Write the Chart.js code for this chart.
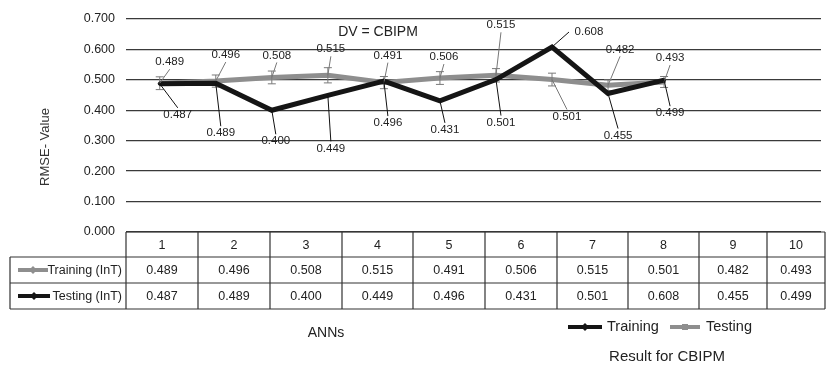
<!DOCTYPE html>
<html>
<head>
<meta charset="utf-8">
<script src="https://cdn.jsdelivr.net/npm/chart.js@4.4.0/dist/chart.umd.min.js"></script>
<style>
  html, body { margin: 0; padding: 0; background: #fff; }
  #wrap { width: 826px; height: 369px; position: relative; }
</style>
</head>
<body>
<div id="wrap"><canvas id="rmseChart"></canvas></div>
<script>
// Gegevens uit de figuur (RMSE per ANN)
const anns = ['1', '2', '3', '4', '5', '6', '7', '8', '9', '10'];
const trainingInT = [0.489, 0.496, 0.508, 0.515, 0.491, 0.506, 0.515, 0.501, 0.482, 0.493];
const testingInT = [0.487, 0.489, 0.400, 0.449, 0.496, 0.431, 0.501, 0.608, 0.455, 0.499];
const trainingErr = [0.021, 0.020, 0.021, 0.025, 0.020, 0.021, 0.022, 0.021, 0.018, 0.018];
const annPositions = [1, 2, 3, 4, 5, 6, 7, 8, 9, 10];

const FONT = 'Liberation Sans, Arial, sans-serif';
const GRAY = '#8e8e8e';
const BLACK = '#151515';

// Labelplaatsing (offset t.o.v. het punt), puur opmaak
const grayLabelOffsets = [[10,-21],[10,-26],[5,-22],[3,-26],[4,-27],[4,-21],[5,-50],[15,37],[12,-36],[6,-24]];
const blackLabelOffsets = [[18,31],[5,50],[4,31],[3,53],[4,42],[5,29],[5,43],[37,-15],[10,42],[6,33]];
const colWidths = [72, 72, 72, 71, 72, 72, 71, 71, 68, 58];

const extras = {
    id: 'extras',
    afterDatasetDraw(chart, args) {
        if (args.index !== 1) return;
        // Foutbalkjes op de grijze lijn
        const ctx = chart.ctx, x = chart.scales.x, y = chart.scales.y;
        ctx.save();
        ctx.strokeStyle = '#7a7a7a';
        ctx.lineWidth = 1;
        trainingInT.forEach((v, i) => {
            const px = x.getPixelForValue(annPositions[i]);
            const top = y.getPixelForValue(v + trainingErr[i]);
            const bot = y.getPixelForValue(v - trainingErr[i]);
            ctx.beginPath();
            ctx.moveTo(px, top); ctx.lineTo(px, bot);
            ctx.moveTo(px - 4, top); ctx.lineTo(px + 4, top);
            ctx.moveTo(px - 4, bot); ctx.lineTo(px + 4, bot);
            ctx.stroke();
        });
        ctx.restore();
    },
    afterDraw(chart) {
        const ctx = chart.ctx, x = chart.scales.x, y = chart.scales.y, area = chart.chartArea;
        ctx.save();

        // Datalabels met aanwijslijntjes
        const drawLabels = (values, offsets, color) => {
            ctx.font = '11.5px ' + FONT;
            ctx.textAlign = 'center';
            ctx.textBaseline = 'middle';
            values.forEach((v, i) => {
                const px = x.getPixelForValue(annPositions[i]);
                const py = y.getPixelForValue(v);
                const lx = px + offsets[i][0], ly = py + offsets[i][1];
                const edgeY = offsets[i][1] < 0 ? ly + 7 : ly - 7;
                ctx.strokeStyle = color;
                ctx.lineWidth = 1;
                ctx.beginPath();
                if (Math.abs(offsets[i][0]) > 25) {
                    ctx.moveTo(px, py); ctx.lineTo(lx - 20, ly);
                } else {
                    ctx.moveTo(px, py); ctx.lineTo(lx, edgeY);
                }
                ctx.stroke();
                ctx.fillStyle = '#222';
                ctx.fillText(v.toFixed(3), lx, ly);
            });
        };
        drawLabels(trainingInT, grayLabelOffsets, '#777');
        drawLabels(testingInT, blackLabelOffsets, '#111');

        // Titel in de grafiek
        ctx.fillStyle = '#222';
        ctx.font = '14px ' + FONT;
        ctx.textAlign = 'center';
        ctx.textBaseline = 'middle';
        ctx.fillText('DV = CBIPM', 378, 32);

        // Y-as titel
        ctx.save();
        ctx.translate(45, 147);
        ctx.rotate(-Math.PI / 2);
        ctx.font = '13px ' + FONT;
        ctx.fillStyle = '#333';
        ctx.fillText('RMSE- Value', 0, 0);
        ctx.restore();

        // Datatabel onder de grafiek
        const top = area.bottom, r1 = top + 25, r2 = r1 + 26, r3 = r2 + 26, leftX = 10;
        const edges = [area.left];
        colWidths.forEach(w => edges.push(edges[edges.length - 1] + w));
        ctx.strokeStyle = '#333';
        ctx.lineWidth = 1.2;
        ctx.beginPath();
        ctx.moveTo(area.left, top); ctx.lineTo(edges[edges.length - 1], top);
        ctx.moveTo(leftX, r1); ctx.lineTo(edges[edges.length - 1], r1);
        ctx.moveTo(leftX, r2); ctx.lineTo(edges[edges.length - 1], r2);
        ctx.moveTo(leftX, r3); ctx.lineTo(edges[edges.length - 1], r3);
        ctx.moveTo(leftX, r1); ctx.lineTo(leftX, r3);
        edges.forEach(ex => { ctx.moveTo(ex, top); ctx.lineTo(ex, r3); });
        ctx.stroke();

        ctx.font = '12.5px ' + FONT;
        ctx.fillStyle = '#222';
        ctx.textAlign = 'center';
        anns.forEach((a, i) => {
            const cx = (edges[i] + edges[i + 1]) / 2;
            ctx.fillText(a, cx, (top + r1) / 2 + 1);
            ctx.fillText(trainingInT[i].toFixed(3), cx, (r1 + r2) / 2 + 1);
            ctx.fillText(testingInT[i].toFixed(3), cx, (r2 + r3) / 2 + 1);
        });

        // Legendasymbolen in de tabel
        const marker = (x0, x1, yy, color, w, shape) => {
            ctx.strokeStyle = color; ctx.fillStyle = color; ctx.lineWidth = w;
            ctx.beginPath(); ctx.moveTo(x0, yy); ctx.lineTo(x1, yy); ctx.stroke();
            const mx = (x0 + x1) / 2;
            ctx.beginPath();
            if (shape === 'diamond') {
                ctx.moveTo(mx, yy - 4); ctx.lineTo(mx + 4, yy); ctx.lineTo(mx, yy + 4); ctx.lineTo(mx - 4, yy);
            } else {
                ctx.rect(mx - 3, yy - 3, 6, 6);
            }
            ctx.fill();
        };
        marker(18, 48, (r1 + r2) / 2, GRAY, 4, 'diamond');
        marker(18, 50, (r2 + r3) / 2, BLACK, 4, 'diamond');
        ctx.fillStyle = '#222';
        ctx.textAlign = 'right';
        ctx.fillText('Training (InT)', 122, (r1 + r2) / 2 + 1);
        ctx.fillText('Testing (InT)', 122, (r2 + r3) / 2 + 1);

        // As-titel en legenda onderaan
        ctx.textAlign = 'center';
        ctx.font = '14px ' + FONT;
        ctx.fillText('ANNs', 326, 333);
        marker(568, 602, 327, BLACK, 4, 'diamond');
        marker(670, 700, 327, GRAY, 4, 'square');
        ctx.fillStyle = '#222';
        ctx.textAlign = 'left';
        ctx.font = '14.5px ' + FONT;
        ctx.fillText('Training', 607, 327);
        ctx.fillText('Testing', 706, 327);
        ctx.textAlign = 'center';
        ctx.font = '15px ' + FONT;
        ctx.fillText('Result for CBIPM', 667, 357);

        ctx.restore();
    }
};

const ctx = document.getElementById('rmseChart').getContext('2d');
new Chart(ctx, {
    type: 'line',
    data: {
        datasets: [
            {
                label: 'Testing (InT)',
                data: annPositions.map((p, i) => ({ x: p, y: testingInT[i] })),
                borderColor: BLACK, backgroundColor: BLACK, borderWidth: 5,
                pointRadius: 1.5, pointBorderWidth: 1, pointStyle: 'circle', tension: 0, order: 0
            },
            {
                label: 'Training (InT)',
                data: annPositions.map((p, i) => ({ x: p, y: trainingInT[i] })),
                borderColor: GRAY, backgroundColor: GRAY, borderWidth: 5,
                pointRadius: 1.5, pointBorderWidth: 1, tension: 0, order: 1
            }
        ]
    },
    options: {
        responsive: true,
        maintainAspectRatio: false,
        animation: false,
        layout: { padding: { top: 19, bottom: 137, left: 0, right: 0 } },
        plugins: { legend: { display: false }, tooltip: { enabled: false } },
        scales: {
            x: { type: 'linear', display: false, min: 0.398, max: 12.8 },
            y: {
                min: 0, max: 0.7,
                afterFit: s => { s.width = 126; },
                border: { display: false },
                grid: { color: '#3a3a3a', lineWidth: 1.3, drawTicks: false },
                ticks: {
                    stepSize: 0.1, padding: 11, color: '#222',
                    font: { family: FONT, size: 12.5 },
                    callback: v => v.toFixed(3)
                }
            }
        }
    },
    plugins: [extras]
});
</script>
</body>
</html>
